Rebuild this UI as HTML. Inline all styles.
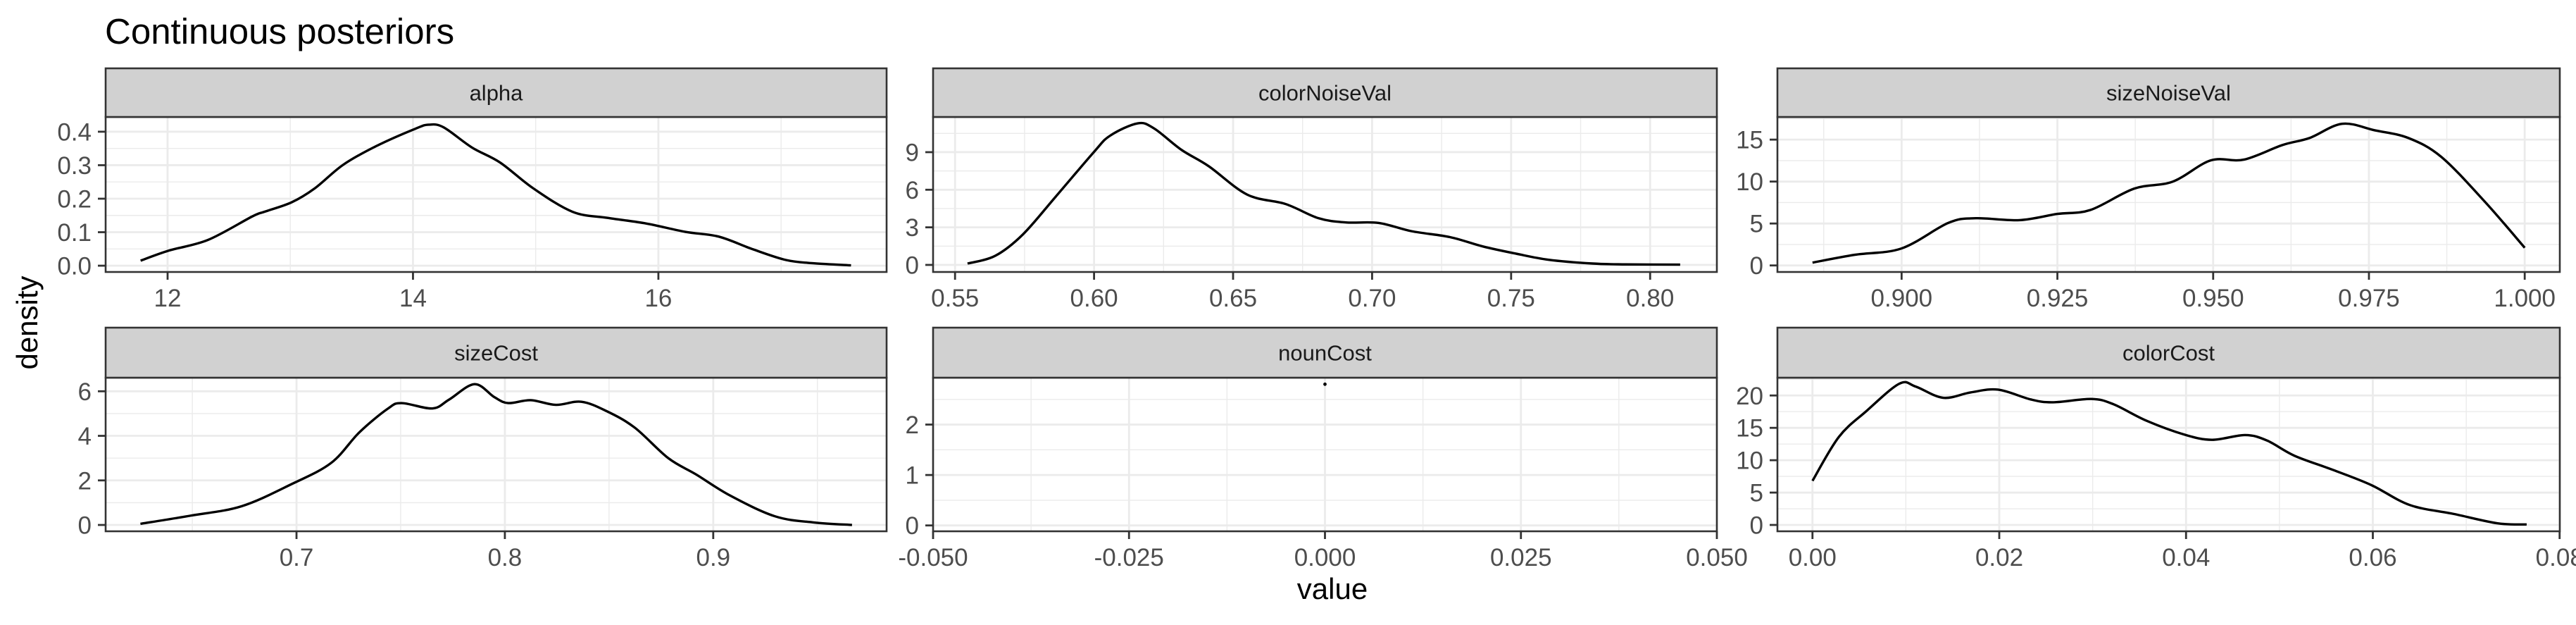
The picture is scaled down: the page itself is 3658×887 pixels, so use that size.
<!DOCTYPE html>
<html><head><meta charset="utf-8"><style>
body{margin:0;background:#fff}
svg{display:block;font-family:"Liberation Sans",Arial,sans-serif}
</style></head><body>
<svg id="chart" width="3658" height="887" viewBox="0 0 3658 887" xmlns="http://www.w3.org/2000/svg">
<rect width="3658" height="887" fill="#fff"/>
<text x="149" y="62" font-size="51" fill="#000">Continuous posteriors</text>
<text x="0" y="0" font-size="42" fill="#000" text-anchor="middle" transform="translate(53,458) rotate(-90)">density</text>
<text x="1892" y="850" font-size="42" fill="#000" text-anchor="middle">value</text>
<g id="panels"></g>
</svg>
<script>
const alphaX=[11.78,12.01,12.33,12.69,12.79,13.01,13.20,13.43,13.70,14.02,14.13,14.25,14.48,14.71,14.98,15.30,15.58,15.90,16.22,16.49,16.77,17.04,17.27,17.57];
const alphaY=[0.015,0.045,0.077,0.147,0.161,0.189,0.231,0.301,0.357,0.409,0.421,0.413,0.353,0.308,0.231,0.161,0.143,0.126,0.101,0.087,0.049,0.017,0.007,0.001];
const colorNoiseX=[0.5545,0.5644,0.5743,0.5861,0.5999,0.6058,0.6157,0.6216,0.6314,0.6413,0.6551,0.6689,0.6807,0.6906,0.7024,0.7142,0.7280,0.7399,0.7517,0.7635,0.7793,0.7911,0.8108];
const colorNoiseY=[0.11,0.72,2.41,5.42,9.0,10.32,11.30,10.89,9.19,7.87,5.61,4.86,3.73,3.39,3.35,2.69,2.22,1.47,0.90,0.41,0.11,0.04,0.02];
const sizeNoiseX=[0.8857,0.8925,0.9,0.9075,0.9119,0.9189,0.9250,0.9303,0.9373,0.9435,0.9496,0.9549,0.9611,0.9655,0.9707,0.9760,0.9813,0.9866,0.9936,1.0];
const sizeNoiseY=[0.34,1.27,2.03,5.07,5.63,5.40,6.14,6.61,9.15,9.99,12.52,12.61,14.35,15.2,16.89,16.10,15.2,12.95,7.6,2.11];
const sizeCostX=[0.6251,0.6493,0.6736,0.6978,0.7167,0.7302,0.7437,0.7504,0.7652,0.7733,0.7854,0.7949,0.8016,0.8124,0.8245,0.8367,0.8488,0.8623,0.8784,0.8919,0.9081,0.9296,0.9485,0.9666];
const sizeCostY=[0.05,0.42,0.84,1.84,2.79,4.16,5.21,5.47,5.23,5.63,6.32,5.74,5.47,5.6,5.39,5.53,5.11,4.37,3.0,2.26,1.32,0.39,0.11,0];
const nounCostX=[0];
const nounCostY=[2.8];
const colorCostX=[0,0.00282,0.00576,0.00929,0.01105,0.01399,0.01693,0.01987,0.02339,0.02575,0.02986,0.03221,0.03574,0.03985,0.04279,0.04632,0.04867,0.05161,0.05572,0.05984,0.06395,0.06866,0.07336,0.07647];
const colorCostY=[6.81,13.59,17.57,21.81,21.38,19.64,20.47,20.9,19.38,18.95,19.46,18.66,16.12,13.95,13.15,13.88,13.04,10.69,8.51,6.16,3.08,1.70,0.25,0.07];
const panelNames=["alpha","colorNoiseVal","sizeNoiseVal","sizeCost","nounCost","colorCost"];
const xTicks=[[12,14,16],[0.55,0.60,0.65,0.70,0.75,0.80],[0.900,0.925,0.950,0.975,1.000],[0.7,0.8,0.9],[-0.05,-0.025,0,0.025,0.05],[0,0.02,0.04,0.06,0.08]];
const xTickLabels=[["12","14","16"],["0.55","0.60","0.65","0.70","0.75","0.80"],["0.900","0.925","0.950","0.975","1.000"],["0.7","0.8","0.9"],["-0.050","-0.025","0.000","0.025","0.050"],["0.00","0.02","0.04","0.06","0.08"]];
const yTicks=[[0,0.1,0.2,0.3,0.4],[0,3,6,9],[0,5,10,15],[0,2,4,6],[0,1,2],[0,5,10,15,20]];
const yTickLabels=[["0.0","0.1","0.2","0.3","0.4"],["0","3","6","9"],["0","5","10","15"],["0","2","4","6"],["0","1","2"],["0","5","10","15","20"]];
const xDomains=[[11.495,17.86],[0.5421,0.824],[0.88007,1.00563],[0.6084,0.9832],[-0.05,0.05],[-0.003753,0.08002]];
const yDomains=[[-0.0188,0.444],[-0.565,11.81],[-0.78,17.7],[-0.284,6.61],[-0.116,2.93],[-0.98,22.75]];
const seriesX=[alphaX,colorNoiseX,sizeNoiseX,sizeCostX,nounCostX,colorCostX];
const seriesY=[alphaY,colorNoiseY,sizeNoiseY,sizeCostY,nounCostY,colorCostY];

const NS="http://www.w3.org/2000/svg";
const root=document.getElementById("panels");
const colL=[150,1325,2524],colR=[1259,2438,3635];
const rowStripTop=[97,465],rowPlotTop=[166,536],rowPlotBot=[386,754];
function mk(tag,attrs,parent){const e=document.createElementNS(NS,tag);for(const k in attrs)e.setAttribute(k,attrs[k]);(parent||root).appendChild(e);return e;}
function pathThrough(pts){
  if(pts.length<2)return "";
  let d="M"+pts[0][0]+","+pts[0][1];
  for(let i=0;i<pts.length-1;i++){
    const p0=pts[Math.max(0,i-1)],p1=pts[i],p2=pts[i+1],p3=pts[Math.min(pts.length-1,i+2)];
    const c1x=p1[0]+(p2[0]-p0[0])/6,c1y=p1[1]+(p2[1]-p0[1])/6;
    const c2x=p2[0]-(p3[0]-p1[0])/6,c2y=p2[1]-(p3[1]-p1[1])/6;
    d+=" C"+c1x+","+c1y+" "+c2x+","+c2y+" "+p2[0]+","+p2[1];
  }
  return d;
}
function minors(ticks,dom){
  const out=[];if(ticks.length<2)return out;const step=ticks[1]-ticks[0];
  const all=[ticks[0]-step].concat(ticks,[ticks[ticks.length-1]+step]);
  for(let i=0;i<all.length-1;i++){const m=(all[i]+all[i+1])/2;if(m>dom[0]&&m<dom[1])out.push(m);}
  return out;
}
for(let p=0;p<6;p++){
  const r=Math.floor(p/3),c=p%3;
  const L=colL[c],R=colR[c],T=rowPlotTop[r],B=rowPlotBot[r],ST=rowStripTop[r];
  const xd=xDomains[p],yd=yDomains[p];
  const sx=v=>L+(v-xd[0])/(xd[1]-xd[0])*(R-L);
  const sy=v=>B-(v-yd[0])/(yd[1]-yd[0])*(B-T);
  const g=mk("g",{});
  
  
  mk("rect",{x:L,y:T,width:R-L,height:B-T,fill:"#fff"},g);
  minors(xTicks[p],xd).forEach(v=>{const l=mk("line",{x1:sx(v),x2:sx(v),y1:T,y2:B,stroke:"#ebebeb","stroke-width":1.4},g);});
  minors(yTicks[p],yd).forEach(v=>{const l=mk("line",{x1:L,x2:R,y1:sy(v),y2:sy(v),stroke:"#ebebeb","stroke-width":1.4},g);});
  xTicks[p].forEach((v,i)=>{
    const l=mk("line",{x1:sx(v),x2:sx(v),y1:T,y2:B,stroke:"#ebebeb","stroke-width":2.8},g);
    
    const t=mk("line",{x1:sx(v),x2:sx(v),y1:B,y2:B+11,stroke:"#333","stroke-width":2.8},g);
    
    const tx=mk("text",{x:sx(v),y:B+49,"font-size":35,fill:"#4d4d4d","text-anchor":"middle"},g);
    tx.textContent=xTickLabels[p][i];
    
  });
  yTicks[p].forEach((v,i)=>{
    const l=mk("line",{x1:L,x2:R,y1:sy(v),y2:sy(v),stroke:"#ebebeb","stroke-width":2.8},g);
    
    const t=mk("line",{x1:L-11,x2:L,y1:sy(v),y2:sy(v),stroke:"#333","stroke-width":2.8},g);
    
    const tx=mk("text",{x:L-20,y:sy(v)+12.5,"font-size":35,fill:"#4d4d4d","text-anchor":"end"},g);
    tx.textContent=yTickLabels[p][i];
    
  });
  const pts=seriesX[p].map((x,i)=>[sx(x),sy(seriesY[p][i])]);
  if(pts.length>1){
    const ln=mk("path",{d:pathThrough(pts),fill:"none",stroke:"#000","stroke-width":3.4,"stroke-linejoin":"round"},g);
    
  }else{
    const dot=mk("circle",{cx:pts[0][0],cy:pts[0][1],r:2.4,fill:"#000"},g);
    
  }
  const bd=mk("rect",{x:L,y:T,width:R-L,height:B-T,fill:"none",stroke:"#333","stroke-width":2.6},g);
  
  const st=mk("rect",{x:L,y:ST,width:R-L,height:T-ST,fill:"#d1d1d1",stroke:"#333","stroke-width":2.6},g);
  
  const stt=mk("text",{x:(L+R)/2,y:(ST+T)/2+11,"font-size":31,fill:"#1a1a1a","text-anchor":"middle"},g);
  stt.textContent=panelNames[p];
  
}
</script>
</body></html>
